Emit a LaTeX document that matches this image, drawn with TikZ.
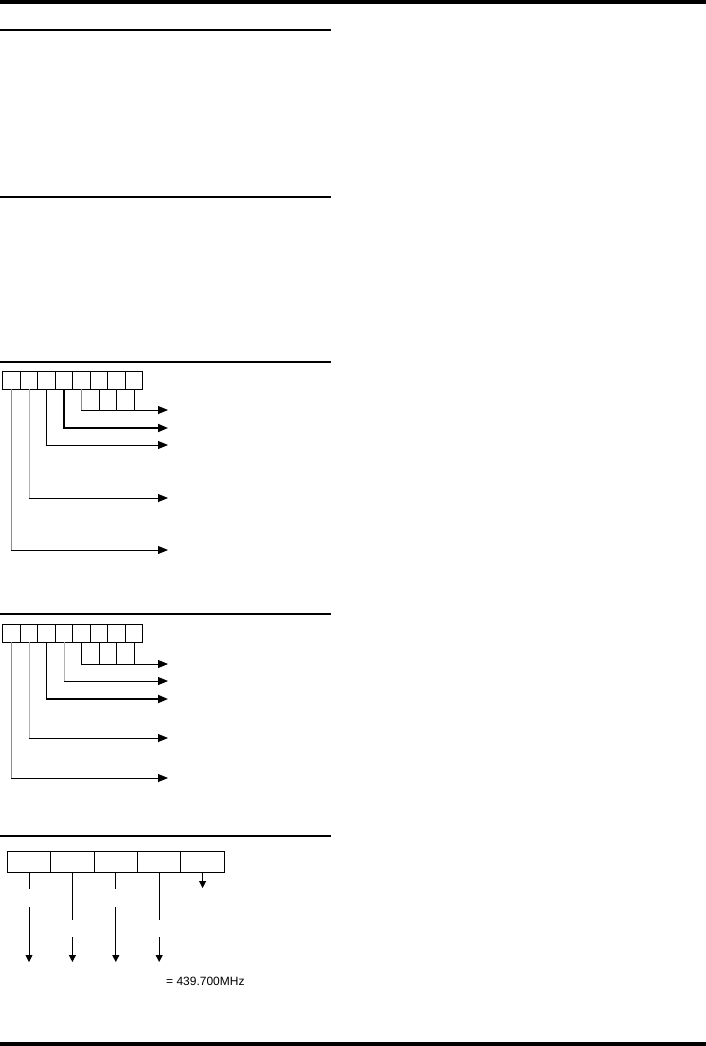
\documentclass[tikz,border=0pt]{standalone}
\usepackage{fontspec}
\setmainfont{Liberation Sans}
\usetikzlibrary{arrows.meta}
\begin{document}
\begin{tikzpicture}[x=1pt,y=-1pt,
  cell/.style={draw,line width=0.9pt,minimum width=17.5pt,minimum height=18pt,inner sep=0pt,outer sep=0pt,anchor=north west},
  wcell/.style={draw,line width=0.9pt,minimum width=43.4pt,minimum height=21pt,inner sep=0pt,outer sep=0pt,anchor=north west},
  rule/.style={line width=2pt},
  bar/.style={fill=black},
  lead/.style={line width=0.9pt},
  leadg/.style={line width=0.9pt,draw=black!45},
  leadl/.style={line width=0.9pt,draw=black!30},
  heavy/.style={line width=1.8pt},
  harrow/.style={line width=0.9pt,-{Triangle[length=10pt,width=8pt]}},
  varrow/.style={line width=0.9pt,-{Triangle[length=7pt,width=7pt]}},
  lbl/.style={font=\fontsize{12}{14}\selectfont,inner sep=0pt,anchor=west}
]
\useasboundingbox (0,0) rectangle (706,1046);
% bars and rules
\fill[bar] (0,0) rectangle (706,4);
\fill[bar] (0,1042) rectangle (706,1046);
\draw[rule] (0,30) -- (331,30);
\draw[rule] (0,197) -- (331,197);
\draw[rule] (0,362) -- (331,362);
\draw[rule] (0,613.5) -- (331,613.5);
\draw[rule] (0,836) -- (331,836);

% ---------- diagram 1 ----------
\foreach \i in {1,...,8} {
  \node[cell] (a\i) at ({2.7+17.5*(\i-1)},371) {};
}
\coordinate (ae) at (168,0);
% bits 5-8
\draw[leadg] (a5.south) -- (a5.south |- 0,410) coordinate (ak5);
\foreach \i in {6,7,8} \draw[lead] (a\i.south) -- (a\i.south |- 0,410);
\draw[harrow] (ak5) -- (ae |- ak5);
% bit 4
\draw[heavy,-{Triangle[length=10pt,width=8pt]}] (a4.south) |- (ae |- 0,428);
% bit 3
\draw[harrow] (a3.south) |- (ae |- 0,445);
% bit 2
\draw[leadl] (a2.south) -- (a2.south |- 0,498) coordinate (ak2);
\draw[harrow] (ak2) -- (ae |- ak2);
% bit 1
\draw[leadg] (a1.south) -- (a1.south |- 0,550) coordinate (ak1);
\draw[harrow] (ak1) -- (ae |- ak1);

% ---------- diagram 2 ----------
\foreach \i in {1,...,8} {
  \node[cell] (b\i) at ({2.7+17.5*(\i-1)},624) {};
}
\foreach \i in {5,6,7,8} \draw[lead] (b\i.south) -- (b\i.south |- 0,664);
\coordinate (bk5) at (b5.south |- 0,664);
\draw[harrow] (bk5) -- (ae |- bk5);
\draw[leadl] (b4.south) -- (b4.south |- 0,681) coordinate (bk4);
\draw[harrow] (bk4) -- (ae |- bk4);
\draw[heavy,-{Triangle[length=10pt,width=8pt]}] (b3.south) |- (ae |- 0,699);
\draw[leadl] (b2.south) -- (b2.south |- 0,738) coordinate (bk2);
\draw[harrow] (bk2) -- (ae |- bk2);
\draw[leadg] (b1.south) -- (b1.south |- 0,778) coordinate (bk1);
\draw[harrow] (bk1) -- (ae |- bk1);

% ---------- diagram 3 ----------
\foreach \i in {1,...,5} {
  \node[wcell] (c\i) at ({7.3+43.4*(\i-1)},851) {};
}
\foreach \i in {1,3} {
  \draw[lead] (c\i.south) -- (c\i.south |- 0,889);
  \coordinate (cs\i) at (c\i.south |- 0,907);
  \draw[varrow] (cs\i) -- (cs\i |- 0,962);
}
\foreach \i in {2,4} {
  \draw[lead] (c\i.south) -- (c\i.south |- 0,920);
  \coordinate (cs\i) at (c\i.south |- 0,937);
  \draw[varrow] (cs\i) -- (cs\i |- 0,962);
}
\draw[varrow] (c5.south) -- (c5.south |- 0,888);
\node[lbl] (freq) at (166,981) {= 439.700MHz};
\end{tikzpicture}
\end{document}
